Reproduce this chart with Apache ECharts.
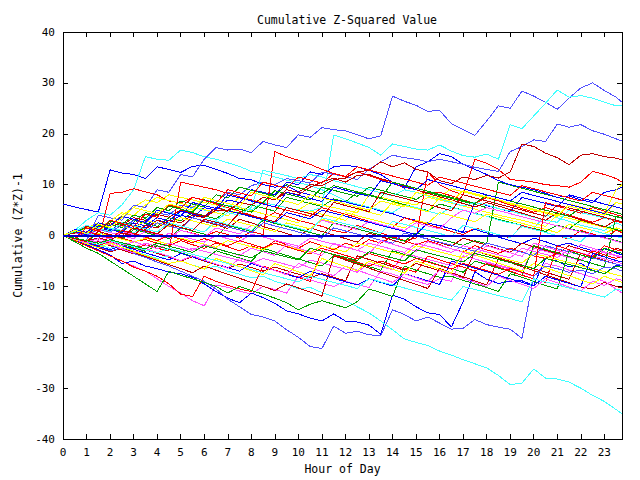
<!DOCTYPE html>
<html>
<head>
<meta charset="utf-8">
<script src="https://cdn.jsdelivr.net/npm/echarts@6/dist/echarts.min.js"></script>
<style>html,body{margin:0;padding:0;background:#fff}#c{width:640px;height:480px}#c svg path{shape-rendering:crispEdges}</style>
</head>
<body>
<div id="c"></div>
<script>
// x grid (hour of day), one sample every half hour, last sample at 23.75
const hours = [0,0.5,1,1.5,2,2.5,3,3.5,4,4.5,5,5.5,6,6.5,7,7.5,8,8.5,9,9.5,10,10.5,11,11.5,12,12.5,13,13.5,14,14.5,15,15.5,16,16.5,17,17.5,18,18.5,19,19.5,20,20.5,21,21.5,22,22.5,23,23.5,23.75];
const xTickLabels = ['0','1','2','3','4','5','6','7','8','9','10','11','12','13','14','15','16','17','18','19','20','21','22','23'];
const yTickLabels = ['-40','-30','-20','-10','0','10','20','30','40'];

const colRed='#ff0000', colGreen='#00a000', colBlue='#0000ff', colMag='#ff50ff', colCyan='#40ffff', colDRed='#c00000', colYel='#ffff00', colLBlue='#5050ff';

const sA = [0,-0.5,-1,4,3.5,3,6,5.5,9,8.5, 12,11.5,15,17.3,16.8,17,16.3,18.5,17.8,17.3, 19.8,19.3,21.2,20.8,20.6,19.8,19,19.6,27.4,26.4, 25.6,24.4,24.6,22,20.8,19.7,22.5,25.5,25,28.4, 27.4,26.2,24.8,27,29,30,28.5,27.2, 26.2];
const sB = [0,0.5,1.5,1,2.5,2,3.5,3,5,4.5, 4,5.5,5,4.5,6,5.5,5,6.5,6,5.5, 5,4.8,5.5,19.8,19,18.2,17.3,15.8,18,17.5, 17,16.8,17.8,16.6,15.7,15.4,16,15,21.8,21, 23.5,26,28.6,27.2,27.5,27,26.2,25.5, 25.5];
const sC = [0,1,0.5,2,1.5,1,3,2.5,4.5,4, 6,5.5,7,6.5,8.5,8,9.8,10.5,10,11.2, 10.8,10.3,12.5,12,11.6,11,13,14.5,15.8,15.3, 15,14.5,15,14.5,14,13.4,13,12.6,16.5,17.5, 18.8,18.5,21.9,21.3,21.8,20.6,19.9,19, 18.6];
const sD = [0,-0.5,-1,-0.5,-1,0.5,0,2,1.5,3, 2.5,4,3.5,5,4.8,6.5,6,7.5,7,9, 8.5,10,9.8,11,11.3,12.5,12.8,14.5,13.5,14.3, 13,12.5,10.8,10.2,11.5,11,11.8,11.3,12.5,18, 17.5,16.2,15.3,13.9,15.8,16.1,15.5,15.2, 14.9];
const sE = [0,-0.5,-1.2,-1.8,-2.5,-2,-3,-3.8,-4.5,-4, -5,-5.8,-6.5,-6,-7,-7.6,-8.3,-8,-9,-9.6, -10.5,-10.2,-11.2,-12,-12.8,-14,-15.2,-16.8,-18.5,-20.3, -21,-21.6,-22.7,-23.5,-24.4,-25.2,-26,-27.5,-29.3,-29, -26.2,-28,-28.2,-28.8,-30,-31.4,-32.6,-34.2, -35];
const sF = [0,-0.8,-1.5,-2.2,-3,-2.5,-3.5,-4.3,-5.2,-6, -7,-8,-9,-10.5,-12.5,-14,-15.5,-16,-16.8,-18.5, -20,-21.8,-22.2,-17.8,-19.2,-18.8,-19.5,-19.7,-14.6,-15.5, -16.8,-16,-17.2,-18.4,-18.2,-16.5,-17.5,-18,-18.4,-20.2, -8,-6,-6.5,-7.2,-6.8,-7.5,-6.2,-6.5, -7];
const sG = [0,-1,-1.8,-2.8,-3.8,-5.5,-5,-6,-6.5,-7.2, -7.5,-8.2,-9.5,-11,-12.3,-13.2,-11.3,-12.2,-13.3,-14.8, -15.4,-16.2,-16.8,-15.4,-16.8,-17,-17.6,-19.4,-11.7,-12.5, -14,-15.2,-15.5,-18,-13,-7.1,-8.6,-9.4,-9,-8.9, -9.8,-4.5,-5,-6.2,-5.5,-6.8,-7.5,-5.8, -6];
const sI = [6.2,5.6,5.1,4.6,12.9,12.3,12,11.2,13.5,13, 12.4,13.6,13.8,13,12.2,11.2,11,10,9.5,9.8, 8.6,8,7.5,7,6.6,6,5.5,4.8,4.3,3.5, 3,2.4,2,1.3,0.6,1.2,0.5,-0.3,-1,-1.6, -0.5,-1.2,-2,-1.5,-2.3,-3,-2.6,-3.4, -3.8];
const sJ = [0,0.5,0,1.5,1,2.5,2,1.5,3,2.5, 4,3.5,5.5,5,7,6.5,9,8.5,8,10.5, 10,12.5,12,13.5,13.8,13.5,12.8,12,10.5,9.3, 13.5,14.5,16.1,15.5,14,13,12,10.8,10,9.5, 9,8.3,7.5,7.8,7,6.5,8.5,9, 9.5];
const sK = [0,1,3,4.5,4,6,9,15.5,15,14.8, 16.8,16.3,15.5,15,14.3,13.6,12.6,12.2,11.5,10.9, 10.4,9.8,9,8,6.8,6.2,5.6,5,4.5,6, 5.5,4.8,4.2,5.5,5,4.3,3.8,3,2.5,2, 1.4,4,3.5,2.8,2,1.5,1,2.5, 2];
const sL = [0,-0.5,0.5,0,1.5,1,0.5,2,1.5,3, 2.5,4,3.5,3,4.5,4,5.5,12.8,12.3,11.8, 11.2,12,11.5,10.8,10.2,9.6,9,8.4,7.8,9, 8.5,7.8,7.2,6.5,5.8,6.5,6,5.3,4.8,4.2, 3.6,3,2.6,5,4.5,4,3.4,3, 2.8];
const sR1 = [0,-0.5,-1,0.5,0,-0.5,-1.2,-0.8,-1.5,-2, -1,-1.8,-2.5,-1.5,-2.2,-3,-2,-2.8,-1,-1.8, -2.5,-1.2,-2,-2.8,-1.5,-2.2,-0.8,-1.5,-0.2,-1, -0.5,12.5,10,8.8,8,15,14.2,13,11,10.8, 10.5,10,9.8,9.5,10.5,12.6,12,11.2, 10.5];
const sR2 = [0,-0.8,-1.5,-1,8.3,8.5,9.2,8.6,8,6.8, 6.4,7.5,7,6.2,5.5,4.8,4,3.3,4.5,3.8, 3,2.4,1.8,1,0.5,2,1.3,0.5,-0.3,-1, -1.8,-1,-1.8,-2.6,-3.2,-2,-2.8,-3.5,-2.5,-3.2, -4,-4.5,-3.5,-4.2,-5,-3,-3.8,-4.5, -4];
const sR3 = [0,0.5,0,1.2,0.6,0,1.5,1,0.4,-0.2, 1,0.5,-0.2,0.8,0.2,-0.5,0.8,0.2,16.5,15.5, 14.8,14,13,12.2,11.5,12.5,11.8,11,10.2,9.5, 9,8.2,8.5,7.8,7,6.3,7.5,6.8,6,5.3, 4.6,5.5,4.8,4,3.3,2.6,3.5,2.8, 2.5];
const sR4 = [0,-0.7,-1.4,-2,-1.2,-2,-2.6,-1.8,-2.5,-3, 10.5,10,9.5,9,8.3,7.6,7,6.3,5.6,5, 4.4,3.8,5.5,4.8,4.2,3.5,2.8,2.2,1.6,3.5, 2.8,2.2,1.5,0.8,0.2,1.5,0.8,0.2,-0.5,2, 1.3,0.6,0,-0.7,1,0.3,-0.4,1, 0.6];
const sR5 = [0,-1,-2,-3,-4,-5,-6.2,-7,-8,-9.5, -11.5,-12,-8,-9,-9.8,-10.5,-11,-6,-6.8,-7.5, -8.2,-9,-3,-3.8,-4.5,-5.2,-6,-5,-5.8,-6.5, -7.2,-4,-4.8,-5.5,-6.2,-7,-5.5,-6.2,-7,-7.8, -8.5,-9.2,-2,-2.8,-3.5,-4.2,-2,-2.8, -3];
const sR6 = [0,-0.6,0.8,0.2,-0.5,1,0.4,-0.3,-1,0, -0.7,-1.4,-0.6,-1.3,-2,-1,-1.7,-2.4,-1.5,-2.2, -2.9,-3.6,-2.5,-3.2,-3.9,-4.6,-3.5,-4.2,-4.9,-5.6, -4.5,-5.2,-5.9,-6.6,-5.5,-6.2,-6.9,-7.6,-6.5,-7.2, -7.9,6.5,5.8,5.1,4.4,5.5,4.8,4.1, 3.8];
const sR7 = [0,-0.5,1.5,0.9,3,2.4,1.8,4.2,3.6,6, 5.4,7.5,6.9,6.3,9,8.4,7.8,10.5,9.9,9.3, 11.5,10.9,10.3,12.2,11.6,13.5,12.9,12.3,11.7,11.1, 10.5,9.9,11.5,10.9,10.3,9.7,9.1,8.5,7.9,9.8, 9.2,8.6,8,7.4,6.8,8.5,7.9,7.3, 7];
const sDR1 = [0,-1,-1.8,-1.2,-2,-2.8,-3.6,-2.8,-3.5,-4.3, -5,-4.2,-5,-5.7,-6.4,-5.6,-6.3,-7,-6.2,-6.9, -7.6,-8.3,-7.5,-8.2,-8.9,-4,-4.7,-5.4,-6.1,-6.8, -5.5,-6.2,-6.9,-7.6,-8.3,-3,-3.7,-4.4,-5.1,-5.8, -6.5,-7.2,-7.9,-8.6,-3.5,-4.2,-4.9,-5.6, -5.9];
const sDR2 = [0,0.8,0.2,1.5,0.8,2.5,1.8,1.2,3,2.3, 1.6,3.5,2.8,2.1,1.4,3.2,2.5,1.8,1.1,0.4, -0.3,1.5,0.8,0.1,-0.6,-1.3,0.5,-0.2,-0.9,-1.6, 0,-0.7,-1.4,-2.1,-0.5,-1.2,-1.9,-2.6,-3.3,-1.5, -2.2,-2.9,-3.6,-2,-2.7,-3.4,-4.1,-2.5, -2.8];
const sDR3 = [0,-0.8,-1.6,-2.4,-3.2,-2.5,-3.3,-4.1,-4.9,-5.7, -6.5,-7.3,-6,-6.8,-7.6,-8.4,-9.2,-10,-10.8,-9.5, -10.3,-11.1,-11.9,-4,-4.8,-5.6,-6.4,-7.2,-8,-8.8, -9.6,-10.4,-6.5,-7.3,-8.1,-8.9,-9.7,-4.5,-5.3,-6.1, -6.9,-7.7,-8.5,-9.3,-10.1,-10.5,-9.2,-10, -10.3];
const sDR4 = [0,0.5,1.8,1.2,2.5,2,3.5,3,4.2,3.6, 5,4.4,3.8,5.5,4.9,6.5,6,7.5,7,8.5, 8,9.5,10.5,11.3,10.5,11.8,12,11.2,10.5,9.8, 9,8.3,7.6,7,6.3,5.6,6.5,5.8,5.1,4.4, 3.7,3,4.5,3.8,3.1,2.4,1.7,3, 2.7];
const sDR5 = [0,-0.6,-1.2,0.8,0.2,-0.4,1.5,0.9,0.3,2.2, 1.6,1,3.2,2.6,2,4.5,3.9,3.3,2.7,5.5, 4.9,4.3,3.7,6.5,5.9,5.3,4.7,8.5,7.9,7.3, 6.7,6.1,5.5,4.9,8,7.4,6.8,6.2,5.6,5, 4.4,3.8,6,5.4,4.8,4.2,3.6,3, 2.7];
const sG1 = [0,-1.2,-2.5,-3.5,-5,-6.5,-8,-9.5,-11,-7, -7.8,-8.5,-9.2,-10,-11.3,-10,-10.8,-11.5,-12.3,-13.2, -14.6,-13.5,-12.8,-13.5,-14.2,-13,-10.5,-11.2,-12,-6, -6.8,-7.5,-8.2,-8,-8.8,-9.5,-10.2,-11,-7.5,-8.2, -9,-9.8,-10.5,-3,-3.8,-4.5,-2.5,-3.2, -3.5];
const sG2 = [0,0.6,1.5,1,2.2,1.6,3,2.4,1.8,3.5, 2.9,4.5,3.9,3.3,5,4.4,6,5.4,4.8,7.5, 6.9,6.3,5.7,7.2,6.6,8.5,7.9,7.3,6.7,6.1, 5.5,4.9,6.2,5.6,5,4.4,3.8,3.2,2.6,2, 1.4,0.8,2,1.4,0.8,0.2,-0.4,-1, -1.3];
const sG3 = [0,-0.6,-1.2,0.5,-0.1,-0.7,1.2,0.6,0,-0.6, 1.5,0.9,0.3,-0.3,2,1.4,0.8,3,2.4,1.8, 1.2,0.6,0,2.5,1.9,1.3,0.7,0.1,-0.5,-1.1, 0.5,-0.1,-0.7,-1.3,-1.9,-1,-1.6,10.5,9.9,9.3, 8.7,8.1,7.5,6.9,6.3,5.7,5.1,4.5, 4.2];
const sG4 = [0,-0.7,-1.4,-2.1,-1,-1.7,-2.4,-3.1,-2,-2.7, -3.4,-4.1,-4.8,-3,-3.7,-4.4,-5.1,-2.5,-3.2,-3.9, -4.6,-5.3,-6,-4,-4.7,-5.4,-6.1,-6.8,-3,-3.7, -4.4,-5.1,-5.8,-6.5,-7.2,-5,-5.7,-6.4,-7.1,-7.8, -2,-2.7,-3.4,-4.1,-4.8,-5.5,-6.2,3.8, 3.5];
const sG5 = [0,0.8,0.2,2,1.4,0.8,2.6,4.5,3.9,5.8, 5.2,4.6,7,6.4,5.8,5.2,4.6,6.5,8.8,8.2, 7.6,7,9.5,8.9,8.3,7.7,9.5,8.9,8.3,7.7, 7.1,8.5,7.9,7.3,6.7,6.1,5.5,4.9,4.3,3.7, 3.1,2.5,1.9,1.3,3,2.4,1.8,1.2, 0.9];
const sG6 = [0,0.7,1.5,0.9,2.8,2.2,4,3.4,5.5,4.9, 6.8,6.2,5.6,8,7.4,9.5,8.9,8.3,7.7,10, 9.4,8.8,8.2,9.8,9.2,8.6,8,7.4,10.5,9.9, 9.3,8.7,8.1,7.5,6.9,6.3,8,7.4,6.8,6.2, 5.6,5,4.4,3.8,5.5,4.9,4.3,3.7, 3.4];
const sG7 = [0,-0.5,-1,-1.5,-0.8,-1.4,-2,-2.6,-1.5,-2.1, -2.7,-3.3,-2,-2.6,-3.2,-3.8,-4.4,-3,-3.6,-4.2, -4.8,-2.5,-3.1,-3.7,-4.3,-4.9,-3.2,-3.8,-4.4,-5, -2.8,-3.4,-4,-4.6,-5.2,-3.5,-4.1,-4.7,-5.3,-5.9, -6.5,-4.5,-5.1,-5.7,-6.3,-6.9,-7.5,-6, -6.3];
const sM1 = [0,-1,-2,-3,-4,-5,-6,-7,-8.5,-10, -11.3,-12.8,-13.8,-9.7,-10.2,-10.9,-11.5,-10,-10.6,-11.3, -8,-8.7,-9.4,-10,-9,-9.6,-10.2,-7,-7.6,-8.3, -9,-9.6,-8.5,-9,-4,-4.6,-5.3,-6,-6.6,-7.3, -8,-5.5,-6,-6.8,-7.5,-8.2,-9,-10.5, -11.3];
const sM2 = [0,-0.6,-1.2,-0.5,-1.1,-1.7,-2.3,-1.5,-2.1,-2.7, -3.3,-2.5,-3.1,-3.7,-4.3,-4.9,-5.5,-4.5,-5.1,-5.7, -6.3,-4.8,-5.4,-6,-6.6,-7.2,-5.5,-6.1,-6.7,-3.5, -4.1,-4.7,-5.3,-5.9,-4,-4.6,-5.2,-5.8,-6.4,-7, -2.5,-3.1,-3.7,-4.3,-4.9,-2.8,-3.4,-4, -4.3];
const sM3 = [0,-0.5,0.5,-0.1,-0.7,0.8,0.2,-0.4,-1,0.5, -0.1,-0.7,-1.3,0,-0.6,-1.2,0.3,-0.3,-0.9,-1.5, -2.1,-0.5,-1.1,-1.7,-2.3,-2.9,-1.5,-2.1,-2.7,-3.3, -1.5,-2.1,-2.7,-3.3,-2,-2.6,-3.2,-3.8,-4.4,-2.5, -3.1,-3.7,-4.3,-2.8,-3.4,-4,-4.6,-5.2, -5.5];
const sM4 = [0,0.5,-0.1,1.2,0.6,0,-0.6,0.8,0.2,-0.4, 1,0.4,-0.2,1.5,0.9,0.3,2,1.4,0.8,2.5, 1.9,1.3,3,2.4,1.8,1.2,2.8,2.2,1.6,1, 2.5,1.9,1.3,3.5,5,4.4,5.5,4.9,4.3,3.7, 3.1,2.5,1.9,1.3,0.7,0.1,-0.5,-1.1, -1.4];
const sM5 = [0,-0.8,-1.6,-1,-1.8,-2.6,-3.4,-2.5,-3.3,-4.1, -4.9,-4,-4.8,-5.6,-6.4,-4.5,-5.3,-6.1,-6.9,-7.7, -5.5,-6.3,-7.1,-7.9,-6,-6.8,-7.6,-8.4,-9.2,-7.5, -8.3,-9.1,-6.8,-7.6,-8.4,-9.2,-10,-8,-8.8,-9.6, -10.4,-8.5,-9.3,-10.1,-10.9,-9,-9.8,-8.5, -8.8];
const sM6 = [0,-0.7,-1.4,-0.6,-1.3,-2,-1.2,-1.9,-2.6,-1.5, -2.2,-2.9,-1.8,-2.5,-3.2,-3.9,-2.5,-3.2,-3.9,-1.8, -2.5,-3.2,-3.9,-1.5,-2.2,-2.9,-3.6,-1,-1.7,-2.4, -3.1,-1.2,-1.9,-2.6,-3.3,-4,-2,-2.7,-3.4,-4.1, -1.5,-2.2,-2.9,-3.6,-1.8,-2.5,-3.2,-3.9, -4.2];
const sY1 = [0,0.5,1.5,2.5,2,4,5.5,7,6.5,8, 7.5,7,6.5,6,5.5,7.5,7,6.5,6,5.5, 5,6.5,6,5.5,5,4.5,8,7.5,7,6.5, 6,7.5,7,6.4,5.8,5.2,4.6,4,3.5,3, 2.4,1.8,4,3.4,2.8,2.2,1.6,1, 0.8];
const sY2 = [0,0.7,0.1,1.5,2.8,4.5,3.9,6,7.5,6.9, 6.3,5.7,5.1,4.5,3.9,5.5,4.9,4.3,3.7,3.1, 2.5,4.8,4.2,3.6,3,5.2,4.6,4,6.5,5.9, 5.3,4.7,7.5,9.2,8.6,8,7.4,6.8,6.2,5.6, 5,4.4,3.8,6.2,5.6,5,4.4,9, 10];
const sY3 = [0,-0.5,-1,0.5,-0.1,-0.7,-1.3,-0.5,-1.1,-1.7, -0.5,-1.1,-1.7,-2.3,-1,-1.6,-2.2,-2.8,-1.5,-2.1, -2.7,-3.3,-2,-2.6,-3.2,-1.5,-2.1,-2.7,-3.3,-3.9, -2,-2.6,-3.2,-3.8,-4.4,-3,-3.6,-4.2,-4.8,-5.4, -3.5,-4.1,-4.7,-5.3,-5.9,-6.5,-7.1,-7.7, -8];
const sY4 = [0,0.6,1.5,0.9,2.5,1.9,1.3,3,2.4,1.8, 3.5,2.9,2.3,1.7,3.2,2.6,2,1.4,0.8,2.5, 1.9,1.3,3.2,2.6,4.5,3.9,3.3,2.7,2.1,1.5, 3,2.4,4.5,3.9,3.3,2.7,4.2,3.6,3,2.4, 1.8,1.2,0.6,2.2,1.6,1,0.4,1.5, 1.2];
const sY5 = [0,-0.8,-1.6,-2.4,-1.5,-2.3,-3.1,-3.9,-4.7,-5.5, -5,-5.8,-6.6,-4.5,-5.3,-6.1,-6.9,-7.7,-5.5,-6.3, -7.1,-7.9,-4.5,-5.3,-6.1,-6.9,-5,-5.8,-6.6,-7.4, -5,-5.8,-6.6,-7.4,-3,-3.8,-4.6,-5.4,-6.2,-7, -5.5,-6.3,-7.1,-7.9,-8.7,-9.5,-8,-8.8, -9.2];
const sY6 = [0,1,0.4,2.2,1.6,3.5,5.5,4.9,4.3,6.2, 5.6,5,7.5,6.9,6.3,5.7,8.5,7.9,7.3,6.7, 6.1,8,7.4,6.8,6.2,5.6,5,6.8,6.2,5.6, 8.5,7.9,7.3,6.7,8.8,8.2,7.6,7,6.4,5.8, 5.2,4.6,4,5.8,5.2,4.6,4,6.5, 6.2];
const sB3 = [0,0.8,0.2,1.8,1.2,0.6,2.5,1.9,3.5,2.9, 4.8,4.2,3.6,5.5,4.9,4.3,3.7,3.1,2.5,4.5, 3.9,3.3,5,4.4,3.8,3.2,2.6,2,1.4,0.8, 0.2,2.5,1.9,1.3,0.7,6.5,5.9,5.3,4.7,7.5, 6.9,6.3,5.7,8,7.4,6.8,6.2,5.6, 5.3];
const sB4 = [0,-0.7,-1.4,-2.1,-2.8,-2,-2.7,-3.4,-4.1,-4.8, -3.5,-4.2,-4.9,-5.6,-6.3,-7,-5.5,-6.2,-6.9,-7.6, -8.3,-7,-7.7,-8.4,-9.1,-9.7,-8.5,-9.2,-9.9,-7.5, -8.2,-8.9,-9.6,-5,-5.7,-6.4,-7.1,-7.8,-8.5,-9.2, -9.9,-8,-8.7,-9.4,-10.1,-3.5,-4.2,-4.9, -5.2];
const sB5 = [0,1.2,0.6,2.5,1.9,3.8,3.2,2.6,5,4.4, 3.8,6.5,5.9,5.3,8,7.4,6.8,6.2,5.6,8.5, 7.9,7.3,6.7,9.5,8.9,8.3,7.7,10.8,10.2,9.6, 9,11,10.4,9.8,9.2,8.6,8,7.4,6.8,8.5, 7.9,7.3,6.7,6.1,5.5,4.9,4.3,6.5, 6.2];
const sLB3 = [0,0.6,0,1.3,0.7,2,1.4,0.8,2.5,1.9, 1.3,3.5,2.9,2.3,1.7,1.1,0.5,2.5,1.9,1.3, 0.7,0.1,-0.5,1.5,0.9,0.3,-0.3,-0.9,-1.5,0.5, -0.1,-0.7,-1.3,-1.9,-2.5,-3.1,-1.5,-2.1,-2.7,-3.3, -3.9,-2,-2.6,-3.2,-3.8,-4.4,-5,-5.6, -5.9];
const sC3 = [0,-0.6,-1.2,-1.8,-1,-1.6,-2.2,-2.8,-3.4,-2.5, -3.1,-3.7,-4.3,-4.9,-5.5,-6.1,-6.7,-7.3,-7.9,-8.5, -9.1,-8,-8.6,-9.2,-9.8,-10.4,-8.5,-9.1,-9.7,-10.3, -10.9,-11.5,-12.1,-12.7,-10,-10.6,-11.2,-11.8,-12.4,-13, -8.5,-9.1,-9.7,-10.3,-10.9,-11.5,-12.1,-10.5, -10.8];
const sC4 = [0,0.8,2,1.4,0.8,2.5,1.9,1.3,0.7,2.5, 1.9,1.3,0.7,2.8,2.2,1.6,1,3.2,2.6,2, 1.4,0.8,3.5,2.9,2.3,1.7,1.1,0.5,2.8,2.2, 1.6,1,0.4,-0.2,2,1.4,0.8,0.2,-0.4,1.8, 1.2,0.6,0,-0.6,-1.2,1,0.4,-0.2, -0.5];
const zeroLevel = [0, 0];

const seriesList = [
  [sR1,colRed],[sG2,colGreen],[sI,colBlue],[sM1,colMag],[sK,colCyan],[sDR1,colDRed],[sY1,colYel],[sA,colLBlue],
  [sR2,colRed],[sG3,colGreen],[sJ,colBlue],[sM2,colMag],[sB,colCyan],[sDR2,colDRed],[sY2,colYel],[sC,colLBlue],
  [sR3,colRed],[sG4,colGreen],[sG,colBlue],[sM3,colMag],[sE,colCyan],[sDR3,colDRed],[sY3,colYel],[sF,colLBlue],
  [sR4,colRed],[sG5,colGreen],[sB3,colBlue],[sM4,colMag],[sL,colCyan],[sD,colDRed],[sY4,colYel],[sLB3,colLBlue],
  [sR5,colRed],[sG1,colGreen],[sB4,colBlue],[sM5,colMag],[sC3,colCyan],[sDR4,colDRed],[sY5,colYel],
  [sR6,colRed],[sG6,colGreen],[sB5,colBlue],[sM6,colMag],[sC4,colCyan],[sDR5,colDRed],[sY6,colYel],
  [sR7,colRed],[sG7,colGreen]
];

const font = 'DejaVu Sans Mono';
const series = seriesList.map(([vals,col]) => ({
  type:'line', data: vals.map((v,i)=>[hours[i], v]), showSymbol:false, symbol:'none',
  lineStyle:{color:col, width:1}, itemStyle:{color:col}, silent:true, animation:false,
  emphasis:{disabled:true}
}));
series.push({
  type:'line', data:[[hours[0], zeroLevel[0]],[hours[hours.length-1], zeroLevel[1]]], symbol:'none',
  lineStyle:{color:'#0000c8', width:2}, silent:true, animation:false, z:5, emphasis:{disabled:true}
});

const chart = echarts.init(document.getElementById('c'), null, {renderer:'svg'});
const axisCommon = {
  axisLine:{show:true, onZero:false, lineStyle:{color:'#000', width:1}},
  splitLine:{show:false},
};
chart.setOption({
  animation:false,
  backgroundColor:'#fff',
  title:{text:'Cumulative Z-Squared Value', left:252, top:9, textStyle:{fontFamily:font, fontSize:11.5, fontWeight:'normal', color:'#000'}},
  grid:{left:63, right:18, top:32, bottom:36},
  xAxis:[
    Object.assign({type:'value', min:0, max:23.75, interval:1, position:'bottom',
      name:'Hour of Day', nameLocation:'middle', nameGap:22,
      nameTextStyle:{fontFamily:font, fontSize:11.5, color:'#000'},
      axisTick:{show:true, inside:true, length:5, lineStyle:{color:'#000'}},
      axisLabel:{show:true, margin:8, showMaxLabel:false, fontFamily:font, fontSize:11, color:'#000',
        formatter:(v)=> xTickLabels[Math.round(v)] !== undefined && Math.abs(v-Math.round(v))<1e-6 ? xTickLabels[Math.round(v)] : ''}
    }, axisCommon),
    Object.assign({type:'value', min:0, max:23.75, interval:1, position:'top',
      axisTick:{show:true, inside:true, length:5, lineStyle:{color:'#000'}},
      axisLabel:{show:false}
    }, axisCommon)
  ],
  yAxis:[
    Object.assign({type:'value', min:-40, max:40, interval:10, position:'left',
      name:'Cumulative (Z*Z)-1', nameLocation:'middle', nameGap:34,
      nameTextStyle:{fontFamily:font, fontSize:11.5, color:'#000'},
      axisTick:{show:true, inside:true, length:5, lineStyle:{color:'#000'}},
      axisLabel:{show:true, margin:8, fontFamily:font, fontSize:11, color:'#000',
        formatter:(v)=>{ const k=Math.round((v+40)/10); return yTickLabels[k]; }}
    }, axisCommon),
    Object.assign({type:'value', min:-40, max:40, interval:10, position:'right',
      axisTick:{show:true, inside:true, length:5, lineStyle:{color:'#000'}},
      axisLabel:{show:false}
    }, axisCommon)
  ],
  series: series
});
</script>
</body>
</html>
